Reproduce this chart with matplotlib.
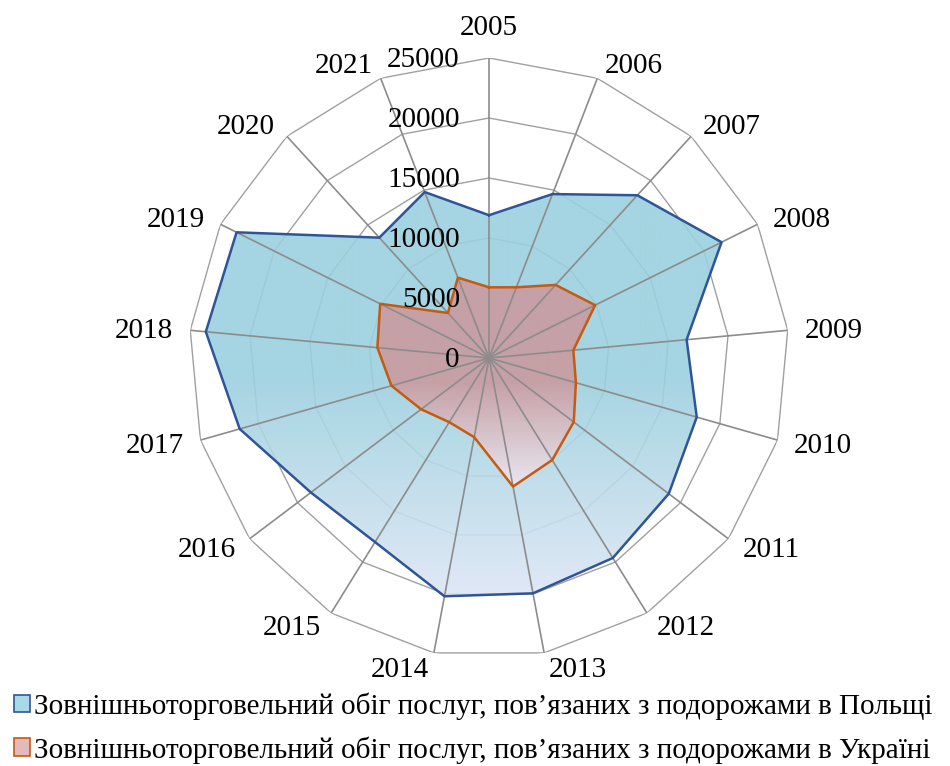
import numpy as np
import matplotlib.pyplot as plt
from matplotlib.patches import Patch
from matplotlib.colors import to_rgb

years = [str(y) for y in range(2005, 2022)]
poland = [11900, 14650, 18350, 21650, 16540, 18000, 18770, 19600, 19950,
          20200, 18040, 18600, 21600, 23700, 23500, 13570, 14830]
ukraine = [5890, 6320, 8240, 9880, 7060, 7530, 8850, 10000, 10900,
           6710, 6290, 7090, 8450, 9340, 10130, 5080, 7180]
levels = [0, 5000, 10000, 15000, 20000, 25000]
labels = ['Зовнішньоторговельний обіг послуг, пов’язаних з подорожами в Польщі',
          'Зовнішньоторговельний обіг послуг, пов’язаних з подорожами в Україні']

plt.rcParams['font.family'] = ['Liberation Serif', 'DejaVu Serif']
FS = 21
PT = 0.72  # points per pixel at dpi 100

fig = plt.figure(figsize=(9.5, 7.66), dpi=100)
# centre at (489, 358) px, radius 300 px
ax = fig.add_axes([189 / 950, 108 / 766, 600 / 950, 600 / 766], projection='polar')
ax.set_theta_zero_location('N')
ax.set_theta_direction(-1)
ax.set_xlim(0, 2 * np.pi)
ax.set_ylim(0, levels[-1])
ax.set_autoscale_on(False)
ax.grid(False)
ax.set_xticks([])
ax.set_yticks([])
ax.spines['polar'].set_visible(False)
ax.patch.set_alpha(0)

n = len(years)
theta = np.arange(n) * 2 * np.pi / n
tc = np.append(theta, theta[0])

# polygon rings
for lv in levels[1:]:
    ax.plot(tc, [lv] * (n + 1), color='#A0A0A0', lw=1.0, zorder=1)


def gradient_fill(values, c_top, c_bot, start, z):
    poly = ax.fill(theta, values, facecolor='none', edgecolor='none', zorder=z)[0]
    pts = ax.transData.transform(np.column_stack([theta, values]))
    ya = ax.transAxes.inverted().transform(pts)[:, 1]
    ytop, ybot = ya.max(), ya.min()
    N = 800
    y = 1 - (np.arange(N) + 0.5) / N
    f = np.clip((ytop - y) / (ytop - ybot), 0, 1)
    w = np.clip((f - start) / (1 - start), 0, 1)[:, None]
    img = (1 - w) * np.array(to_rgb(c_top)) + w * np.array(to_rgb(c_bot))
    img = np.repeat(img[:, None, :], 2, axis=1)
    im = ax.imshow(img, extent=[0, 1, 0, 1], transform=ax.transAxes,
                   aspect='auto', zorder=z, alpha=0.9, interpolation='bilinear')
    im.set_clip_path(poly)
    return poly


gradient_fill(poland, '#9BD0DF', '#DEE6F5', 0.45, 2)
gradient_fill(ukraine, '#C99B9F', '#EFE7F1', 0.5, 2.5)

ax.set_xlim(0, 2 * np.pi)
ax.set_ylim(0, levels[-1])

# spokes
for t in theta:
    ax.plot([t, t], [0, levels[-1]], color='#8C8C8C', lw=1.2, zorder=3)

ax.plot(tc, poland + poland[:1], color='#2F5597', lw=1.8, zorder=4)
ax.plot(tc, ukraine + ukraine[:1], color='#C55A11', lw=1.8, zorder=4)

# category labels (Excel-like placement just outside the outer ring)
for t, yr in zip(theta, years):
    ux, uy = np.sin(t), np.cos(t)  # screen x, screen y (up)
    if abs(ux) < 0.05:
        ha, dx, dy = 'center', 0, 30
    else:
        ha = 'left' if ux > 0 else 'right'
        dx = 15 * ux + (2 if ux > 0 else -2)
        dy = 15 * uy - 2
    ax.annotate(yr, xy=(t, levels[-1]), xytext=(dx * PT, dy * PT),
                textcoords='offset points', ha=ha, va='center',
                fontsize=FS, zorder=5)

# radial labels
for lv in levels:
    ax.annotate(str(lv), xy=(0, lv), xytext=(-21, -1.5), textcoords='offset points',
                ha='right', va='center', fontsize=FS, zorder=5)

handles = [Patch(facecolor='#A9D9E7', edgecolor='#2F5597', lw=1.2),
           Patch(facecolor='#E3B9B9', edgecolor='#C55A11', lw=1.2)]
fig.legend(handles, labels, loc='lower left', bbox_to_anchor=(0.002, -0.012),
           frameon=False, fontsize=FS, handlelength=0.55, handleheight=0.55,
           handletextpad=0.15, labelspacing=0.55, borderaxespad=0.0)

fig.savefig('out.png', dpi=100)
